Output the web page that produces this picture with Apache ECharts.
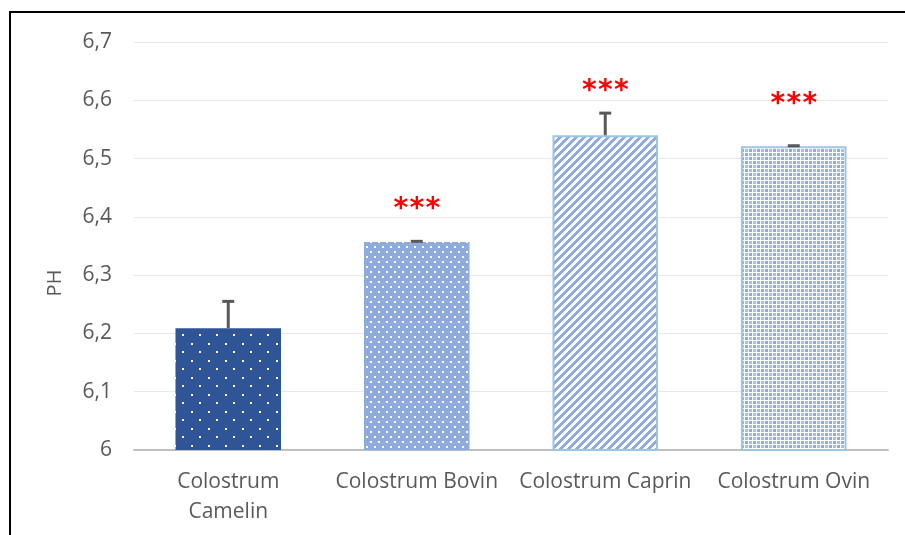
<!DOCTYPE html>
<html>
<head>
<meta charset="utf-8">
<script src="https://cdn.jsdelivr.net/npm/echarts@6/dist/echarts.min.js"></script>
<style>
html, body { margin: 0; padding: 0; background: #fff; }
#main { width: 905px; height: 535px; }
</style>
</head>
<body>
<div id="main"></div>
<script>
var categories = ['Colostrum Camelin', 'Colostrum Bovin', 'Colostrum Caprin', 'Colostrum Ovin'];
var phValues = [6.209, 6.357, 6.540, 6.521];
var phErrors = [0.046, 0.001, 0.038, 0.001];
var signif = ['', '***', '***', '***'];
var signifY = [null, 6.413, 6.614, 6.593];
var yTicks = [6, 6.1, 6.2, 6.3, 6.4, 6.5, 6.6, 6.7];

// petits motifs pour imiter les remplissages Excel
function makePattern(w, h, draw) {
    var c = document.createElement('canvas');
    c.width = w; c.height = h;
    var ctx = c.getContext('2d');
    draw(ctx);
    return { image: c, repeat: 'repeat' };
}
var dotsDark = makePattern(17, 17, function (ctx) {
    ctx.fillStyle = '#2F5597'; ctx.fillRect(0, 0, 17, 17);
    ctx.fillStyle = '#ffffff';
    ctx.fillRect(4, 3, 2, 2);
    ctx.fillRect(12, 11, 2, 2);
});
var dotsLight = makePattern(8, 10, function (ctx) {
    ctx.fillStyle = '#8FAADC'; ctx.fillRect(0, 0, 8, 10);
    ctx.fillStyle = '#ffffff';
    ctx.fillRect(2, 1, 2, 2);
    ctx.fillRect(6, 6, 2, 2);
});
var stripes = makePattern(8, 8, function (ctx) {
    ctx.fillStyle = '#ffffff'; ctx.fillRect(0, 0, 8, 8);
    ctx.fillStyle = '#8FAADC';
    for (var y = 0; y < 8; y++) {
        for (var k = 0; k < 4; k++) {
            ctx.fillRect((7 - y + k) % 8, y, 1, 1);
        }
    }
});
var lattice = makePattern(8, 8, function (ctx) {
    ctx.fillStyle = '#ffffff'; ctx.fillRect(0, 0, 8, 8);
    ctx.fillStyle = '#8FAADC';
    ctx.fillRect(1, 1, 3, 3);
    ctx.fillRect(5, 5, 3, 3);
    ctx.fillStyle = '#A9BEE4';
    ctx.fillRect(5, 1, 3, 3);
    ctx.fillRect(1, 5, 3, 3);
});
var fills = [dotsDark, dotsLight, stripes, lattice];
var borders = [null, null, '#9DC3E6', '#9DC3E6'];

var barData = phValues.map(function (v, i) {
    var it = { value: v, itemStyle: { color: fills[i] } };
    if (borders[i]) { it.itemStyle.borderColor = borders[i]; it.itemStyle.borderWidth = 2; }
    return it;
});
var errData = phValues.map(function (v, i) { return [i, v, v + phErrors[i]]; });
var starData = [];
signifY.forEach(function (y, i) { if (y !== null) starData.push([i, y, signif[i]]); });

var chart = echarts.init(document.getElementById('main'));
var option = {
    animation: false,
    grid: { left: 134, right: 17, top: 42, bottom: 85 },
    xAxis: {
        type: 'category',
        data: categories,
        axisLine: { lineStyle: { color: '#BFBFBF', width: 2 } },
        axisTick: { show: false },
        axisLabel: {
            color: '#595959', fontSize: 21, fontFamily: 'Open Sans', margin: 17, lineHeight: 30,
            interval: 0,
            formatter: function (s) { return s.replace(' Camelin', '\nCamelin'); }
        }
    },
    yAxis: {
        type: 'value',
        min: yTicks[0], max: yTicks[yTicks.length - 1], interval: 0.1,
        axisLine: { show: false },
        axisTick: { show: false },
        splitLine: { lineStyle: { color: '#E8E8E8', width: 1 } },
        axisLabel: {
            color: '#595959', fontSize: 21, fontFamily: 'Open Sans', margin: 22,
            formatter: function (v) { return (Math.round(v * 10) / 10).toString().replace('.', ','); }
        }
    },
    graphic: [
        { type: 'rect', shape: { x: 10, y: 12, width: 1000, height: 600 },
          style: { fill: 'none', stroke: '#000', lineWidth: 2 }, z: 100 },
        { type: 'text', x: 55, y: 283, rotation: Math.PI / 2,
          style: { text: 'PH', fill: '#595959', font: '20px "Open Sans"', align: 'center', verticalAlign: 'middle' } }
    ],
    series: [
        {
            type: 'bar',
            data: barData,
            barWidth: '56%'
        },
        {
            type: 'custom',
            data: errData,
            z: 5,
            renderItem: function (params, api) {
                var base = api.coord([api.value(0), api.value(1)]);
                var top = api.coord([api.value(0), api.value(2)]);
                var x = base[0];
                return { type: 'group', children: [
                    { type: 'line', shape: { x1: x, y1: base[1], x2: x, y2: top[1] },
                      style: { stroke: '#595959', lineWidth: 3 } },
                    { type: 'line', shape: { x1: x - 6, y1: top[1], x2: x + 6, y2: top[1] },
                      style: { stroke: '#595959', lineWidth: 3 } }
                ] };
            }
        },
        {
            type: 'custom',
            data: starData,
            z: 6,
            renderItem: function (params, api) {
                var p = api.coord([api.value(0), api.value(1)]);
                var txt = starData[params.dataIndex][2];
                var children = [];
                for (var k = 0; k < txt.length; k++) {
                    children.push({ type: 'text', x: p[0] + (k - (txt.length - 1) / 2) * 16, y: p[1],
                        style: { text: txt[k], fill: '#FF0000', font: 'bold 28px "DejaVu Sans"', align: 'center', verticalAlign: 'middle' } });
                }
                return { type: 'group', children: children };
            }
        }
    ]
};
chart.setOption(option);
</script>
</body>
</html>
